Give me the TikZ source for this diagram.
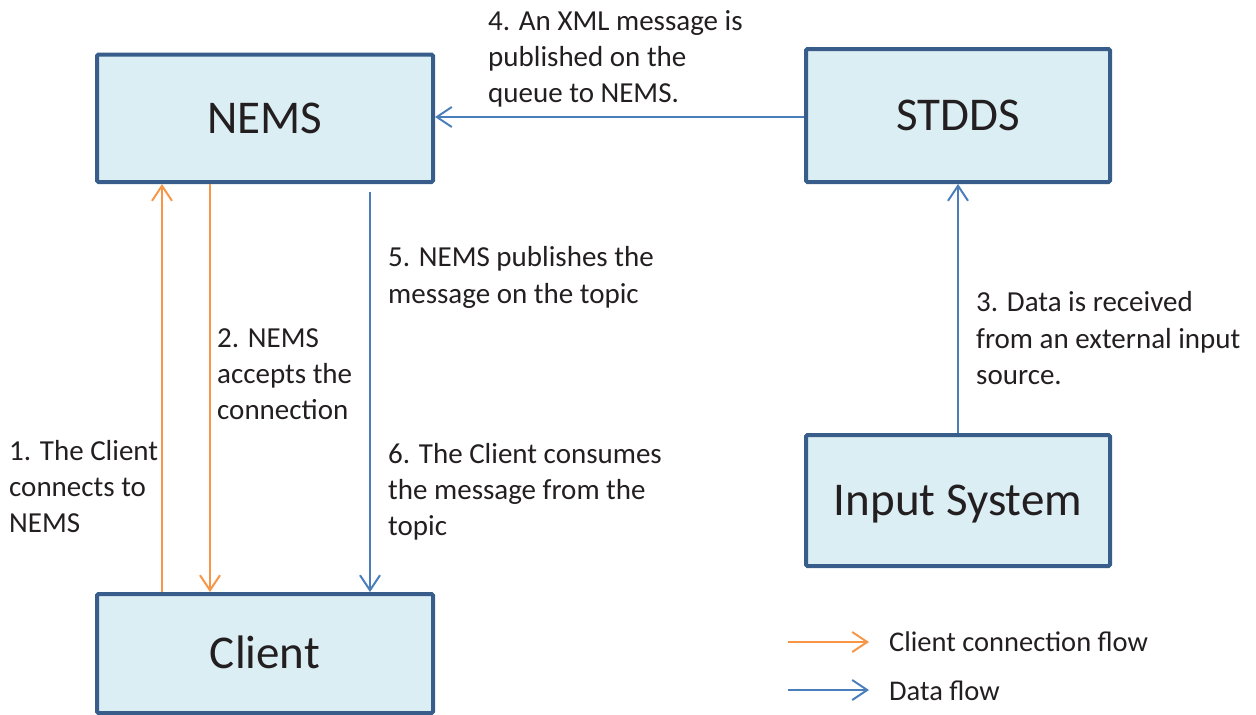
\documentclass[tikz,border=0pt]{standalone}
\usepackage{fontspec}
\setmainfont{Carlito}
\usetikzlibrary{arrows.meta}
\definecolor{boxfill}{HTML}{DBEEF4}
\definecolor{boxline}{HTML}{385D8A}
\definecolor{orng}{HTML}{F79646}
\definecolor{blu}{HTML}{4A7EBB}
\definecolor{txt}{HTML}{231F20}
\begin{document}
\begin{tikzpicture}[x=1pt,y=-1pt,
  box/.style={draw=boxline, fill=boxfill, line width=4pt, rounded corners=1.5pt, text=txt,
    font=\fontsize{47}{56}\selectfont, text height=30pt, text depth=0pt, inner sep=0pt},
  lbl/.style={anchor=base west, align=left, inner sep=0pt, text=txt, font=\fontsize{29}{36.4}\selectfont},
  leg/.style={lbl, font=\fontsize{28.5}{34}\selectfont},
  flow/.style={line width=2pt, -{Straight Barb[length=15pt,width=20pt,line width=2pt]}},
  oflow/.style={flow, draw=orng},
  bflow/.style={flow, draw=blu}]
\useasboundingbox (0,0) rectangle (1256,715);
\begin{scope}
\clip (0,0) rectangle (1256,715);
\node[box, minimum width=336pt, minimum height=127.5pt] (nems) at (265,118.25) {NEMS};
\node[box, minimum width=304pt, minimum height=133pt] (stdds) at (958,115.5) {STDDS};
\node[box, minimum width=304pt, minimum height=131pt] (input) at (958,500.5) {Input System};
\node[box, minimum width=336pt, minimum height=119pt] (client) at (265,653.5) {Client};
\end{scope}
\coordinate (xo1) at (162,0);
\coordinate (xo2) at (210,0);
\coordinate (bstart) at (370,192);
\coordinate (yb) at (0,117);
\draw[oflow] (client.north -| xo1) -- (nems.south -| xo1);
\draw[oflow] (nems.south -| xo2) -- (client.north -| xo2);
\draw[bflow] (bstart) -- (client.north -| bstart);
\draw[bflow] (stdds.west |- yb) -- (nems.east |- yb);
\draw[bflow] (input.north) -- (stdds.south);
\node[lbl] (l4) at (488,102.8) {4. An XML message is\\published on the\\queue to NEMS.};
\node[lbl] (l5) at (388,303.1) {5. NEMS publishes the\\message on the topic};
\node[lbl] (l2) at (217,419.8) {2. NEMS\\accepts the\\connection};
\node[lbl] (l1) at (9,532.8) {1. The Client\\connects to\\NEMS};
\node[lbl] (l6) at (388,535.8) {6. The Client consumes\\the message from the\\topic};
\node[lbl] (l3) at (976,384.5) {3. Data is received\\from an external input\\source.};
\coordinate (lo1) at (788,642);
\coordinate (lo2) at (869,642);
\coordinate (lb1) at (788,690);
\coordinate (lb2) at (869,690);
\draw[oflow] (lo1) -- (lo2);
\draw[bflow] (lb1) -- (lb2);
\node[leg] (lt1) at (889,651.7) {Client connection flow};
\node[leg] (lt2) at (889,700) {Data flow};
\end{tikzpicture}
\end{document}
